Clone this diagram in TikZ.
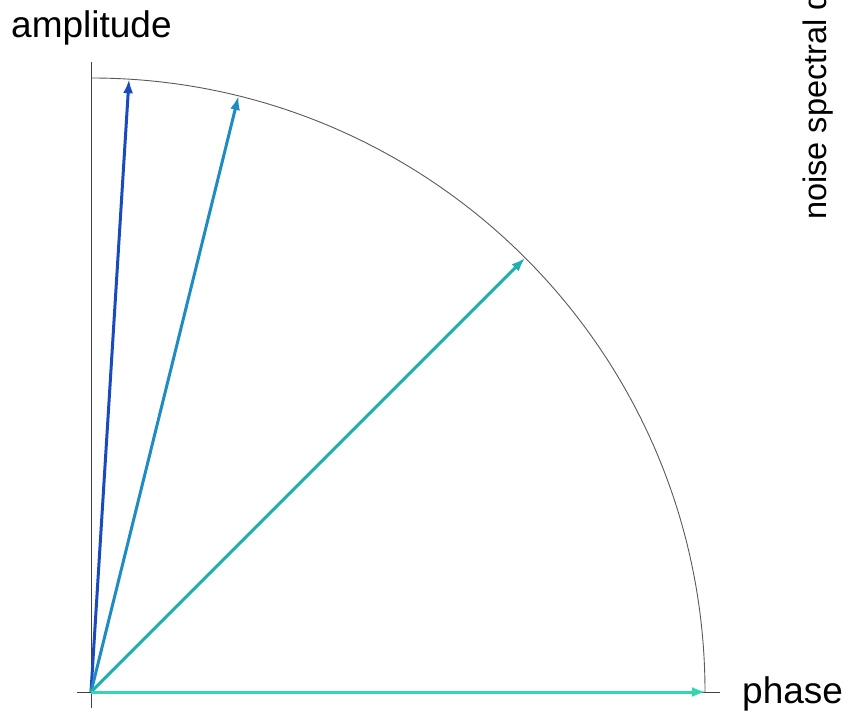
\documentclass[tikz,border=0pt]{standalone}
\usepackage{fontspec}
\setmainfont{Liberation Sans}
\usetikzlibrary{arrows.meta,calc}
\definecolor{cA}{RGB}{25,75,190}
\definecolor{cB}{RGB}{30,140,195}
\definecolor{cC}{RGB}{30,175,175}
\definecolor{cD}{RGB}{50,215,175}
\begin{document}
\begin{tikzpicture}[x=1pt,y=1pt,
  axisline/.style={draw=black!75,line width=1pt},
  circline/.style={draw=black!65,line width=0.9pt},
  vec/.style={line width=3pt,-{Latex[length=14pt,width=10pt]}},
  lbl/.style={inner sep=0pt,font=\fontsize{37}{40}\selectfont}]
\useasboundingbox (0,0) rectangle (848,712);
\coordinate (O) at (91,20);
\coordinate (ytop) at (91,650);
\coordinate (ybot) at (91,4);
\coordinate (xl) at (77,20);
\coordinate (xr) at (720,20);
\draw[axisline] (ybot) -- (ytop);
\draw[axisline] (xl) -- (xr);
\draw[circline] (O) ++(90:614) arc[start angle=90,end angle=0,radius=614];
\coordinate (p1) at ($(O)+(86.45:614)$);
\coordinate (p2) at ($(O)+(76.1:614)$);
\coordinate (p3) at ($(O)+(45:614)$);
\coordinate (p4) at ($(O)+(0:615)$);
\draw[vec,cA] (O) -- (p1);
\draw[vec,cB] (O) -- (p2);
\draw[vec,cC] (O) -- (p3);
\draw[vec,cD] (O) -- (p4);
\node[lbl,anchor=base west] (amp) at (11,674) {amplitude};
\node[lbl,anchor=base west] (ph) at (742,9) {phase};
\node[lbl,anchor=base west,rotate=90,font=\fontsize{32.5}{36}\selectfont] (nsd) at (826,492) {noise spectral d};
\end{tikzpicture}
\end{document}
